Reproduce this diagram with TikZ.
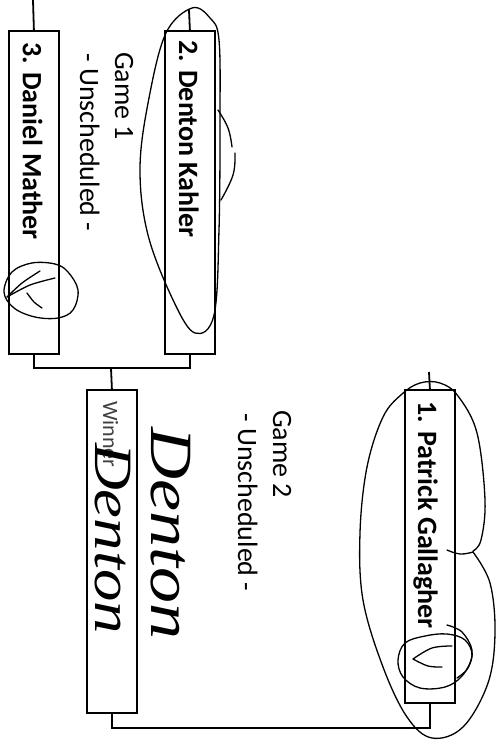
\documentclass[tikz,border=0pt]{standalone}
\usepackage{fontspec}
\setmainfont{Carlito}
\newfontfamily\handfont[FakeStretch=1.2]{Liberation Serif}
\begin{document}
\begin{tikzpicture}[x=1pt,y=-1pt,
  box/.style={draw, line width=1.8pt, fill=white, inner sep=0pt, anchor=north west, minimum width=50pt},
  conn/.style={line width=1.8pt},
  pname/.style={rotate=-90, anchor=base west, inner sep=0pt, font=\fontsize{28}{34}\selectfont\bfseries},
  info/.style={rotate=-90, anchor=base west, inner sep=0pt, font=\fontsize{28}{34}\selectfont},
  winlbl/.style={rotate=-90, anchor=base west, inner sep=0pt, text=black!75, font=\fontsize{22}{26}\selectfont},
  scrawl/.style={rotate=-90, anchor=base west, inner sep=0pt},
  pen/.style={line width=1.3pt, line cap=round, line join=round}]
\useasboundingbox (0,0) rectangle (499,740);

% boxes
\node[box, minimum height=323pt] (b3) at (8,30) {};
\node[box, minimum height=323pt] (b2) at (164,30) {};
\node[box, minimum height=323pt] (bw) at (86,389) {};
\node[box, minimum height=313pt] (b1) at (404,389) {};

% connectors
\coordinate (t3) at (33,0);
\coordinate (t2) at (189,10);
\coordinate (t1) at (429,372);
\coordinate (j1) at (111,368);
\coordinate (j2) at (270,728);
\draw[conn] (t3) -- (b3.north);
\draw[conn] (t2) -- (b2.north);
\draw[conn] (t1) -- (b1.north);
\draw[conn] (b3.south) |- (j1) -| (b2.south);
\draw[conn] (j1) -- (bw.north);
\draw[conn] (bw.south) |- (j2) -| (b1.south);

% names
\node[pname] (n3) at (23,42) {3. Daniel Mather};
\node[pname] (n2) at (179,40) {2. Denton Kahler};
\node[pname] (n1) at (418,401) {1. Patrick Gallagher};
\node[winlbl] (nw) at (103,401) {Winner};

% game info
\node[info] (g1a) at (115,52) {Game 1};
\node[info] (g1b) at (80,53) {- Unscheduled -};
\node[info] (g2a) at (273,410) {Game 2};
\node[info] (g2b) at (238,413) {- Unscheduled -};

% handwriting
\node[scrawl, font=\handfont\itshape\fontsize{54}{60}\selectfont] (h1) at (95,443) {Denton};
\node[scrawl, font=\handfont\itshape\fontsize{60}{66}\selectfont] (h2) at (151,427) {Denton};

% hand-drawn ellipse around Denton Kahler
\draw[pen] plot[smooth cycle, tension=0.6] coordinates {(192,8) (210,18) (219,40) (220,120) (219,230) (214,315) (195,333) (174,302) (148,235) (140,168) (149,98) (166,33)};
\draw[pen] plot[smooth, tension=0.7] coordinates {(218,110) (228,128) (232,147)};
\draw[pen] plot[smooth, tension=0.7] coordinates {(235,153) (233,175) (221,200)};

% hand-drawn loop around Patrick Gallagher
\draw[pen] plot[smooth, tension=0.6] coordinates {(473,551) (481,540) (485,500) (477,433) (458,396) (440,383) (420,383) (402,394) (383,417) (367,467) (360,533) (363,600) (383,667) (407,717) (432,738) (463,727) (488,683) (495,633) (490,583) (473,552)};
\draw[pen] plot[smooth, tension=0.7] coordinates {(447,550) (460,554) (473,552)};

% check circle Daniel Mather
\draw[pen] plot[smooth cycle, tension=0.6] coordinates {(4,292) (12,272) (32,263) (55,264) (68,272) (78,290) (73,310) (58,318) (35,317) (14,308)};
\draw[pen] plot[smooth, tension=0.5] coordinates {(7,297) (30,285) (55,278)};
\draw[pen] plot[smooth, tension=0.5] coordinates {(7,297) (22,283) (40,271)};
\draw[pen] plot[smooth, tension=0.5] coordinates {(27,293) (34,302) (42,308)};

% check circle Patrick Gallagher
\draw[pen] plot[smooth cycle, tension=0.6] coordinates {(398,660) (405,643) (425,636) (447,634) (465,640) (472,656) (462,676) (445,687) (420,688) (403,677)};
\draw[pen] plot[smooth, tension=0.6] coordinates {(447,625) (462,632) (472,650) (468,668) (457,678)};
\draw[pen] plot[smooth, tension=0.6] coordinates {(452,646) (432,648) (413,659)};
\draw[pen] plot[smooth, tension=0.6] coordinates {(413,659) (428,666) (442,667)};
\end{tikzpicture}
\end{document}
